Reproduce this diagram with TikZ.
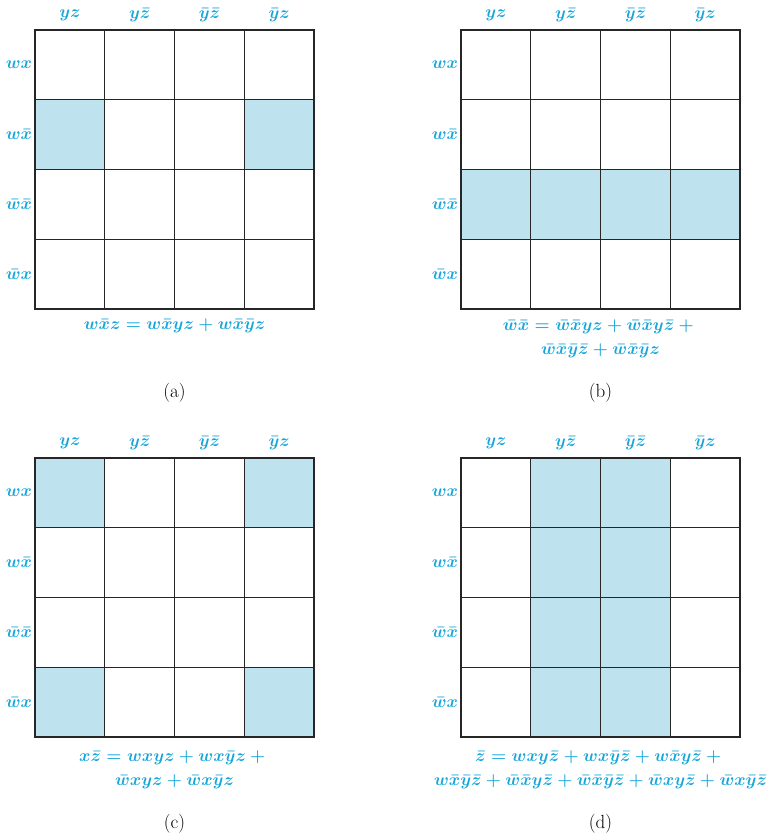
\documentclass[tikz,border=0pt]{standalone}
\usepackage{amsmath}
\definecolor{ciano}{HTML}{18A6DA}
\definecolor{cella}{HTML}{BEE3EE}
\tikzset{
  lab/.style={text=ciano, font=\fontsize{16}{19}\selectfont\boldmath, inner sep=1pt},
  formula/.style={lab, align=center},
  didascalia/.style={font=\fontsize{19}{22}\selectfont, inner sep=1pt},
  griglia/.style={line width=1.3pt, draw=black!85},
}
\newcommand{\cel}{69.75}
% mappa: #1 nome, #2 x, #3 y, #4 celle piene (riga/colonna)
\newcommand{\mappa}[4]{%
  \begin{scope}[shift={(#2,#3)}]
    \foreach \r/\c in {#4}
      \fill[cella] (\c*\cel-\cel,\r*\cel-\cel) rectangle ++(\cel,\cel);
    \foreach \k in {1,2,3}{
      \draw[griglia] (\k*\cel,0)--(\k*\cel,4*\cel);
      \draw[griglia] (0,\k*\cel)--(4*\cel,\k*\cel);
    }
    \draw[griglia] (0,0) rectangle (4*\cel,4*\cel);
    %etichette colonne
    \foreach \t [count=\i] in {{yz},{y\bar z},{\bar y\bar z},{\bar yz}}
      \node[lab] (#1c\i) at (\i*\cel-\cel/2,-15) {$\t$};
    %etichette righe
    \foreach \t [count=\i] in {{wx},{w\bar x},{\bar w\bar x},{\bar wx}}
      \node[lab] (#1r\i) at (-16,\i*\cel-\cel/2) {$\t$};
  \end{scope}}
\begin{document}
\begin{tikzpicture}[x=1pt,y=-1pt]
  \useasboundingbox (0,0) rectangle (766,834);

  %mappe
  \mappa{a}{35}{30}{2/1,2/4}
  \mappa{b}{461}{30}{3/1,3/2,3/3,3/4}
  \mappa{c}{35}{458}{1/1,1/4,4/1,4/4}
  \mappa{d}{461}{458}{1/2,1/3,2/2,2/3,3/2,3/3,4/2,4/3}

  %formule
  \node[formula] (fa) at (174.5,326) {$w\bar xz = w\bar xyz + w\bar x\bar yz$};
  \node[formula] (fb) at (600.5,339) {$\bar w\bar x = \bar w\bar xyz + \bar w\bar xy\bar z +{}$\\[5pt]
    $\bar w\bar x\bar y\bar z + \bar w\bar x\bar yz$};
  \node[formula] (fc) at (174.5,770) {$x\bar z = wxyz + wx\bar yz +{}$\\[5pt]
    $\bar wxyz + \bar wx\bar yz$};
  \node[formula] (fd) at (600.5,770) {$\bar z = wxy\bar z + wx\bar y\bar z + w\bar xy\bar z +{}$\\[5pt]
    $w\bar x\bar y\bar z + \bar w\bar xy\bar z + \bar w\bar x\bar y\bar z + \bar wxy\bar z + \bar wx\bar y\bar z$};

  %didascalie
  \node[didascalia] (capa) at (174.5,393) {(a)};
  \node[didascalia] (capb) at (600.5,393) {(b)};
  \node[didascalia] (capc) at (174.5,824) {(c)};
  \node[didascalia] (capd) at (600.5,824) {(d)};
\end{tikzpicture}
\end{document}
